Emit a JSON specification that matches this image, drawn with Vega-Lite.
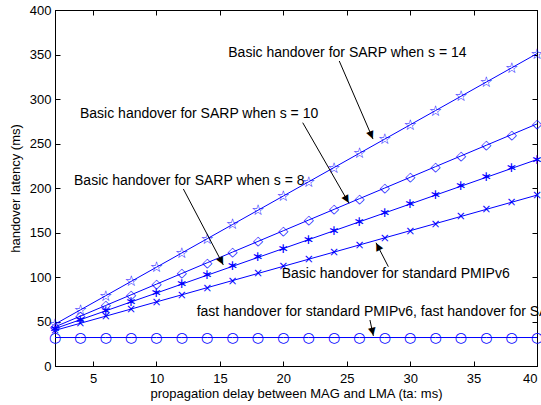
{
  "$schema": "https://vega.github.io/schema/vega-lite/v6.json",
  "width": 482,
  "height": 356,
  "autosize": "none",
  "padding": {"left": 55, "top": 10, "right": 4, "bottom": 39},
  "background": "white",
  "config": {
    "view": {"stroke": "black", "strokeWidth": 1},
    "font": "Liberation Sans",
    "axis": {
      "domainColor": "black", "tickColor": "black", "labelColor": "black", "titleColor": "black",
      "labelFont": "Liberation Sans", "titleFont": "Liberation Sans",
      "labelFontSize": 13, "titleFontSize": 13, "titleFontWeight": "normal",
      "grid": false, "tickSize": -5, "domainWidth": 1, "tickWidth": 1
    }
  },
  "data": {"values": [
      {"x": 2, "s14": 47, "s10": 44, "s8": 42, "std": 40, "fast": 32},
      {"x": 4, "s14": 63, "s10": 56, "s8": 52, "std": 48, "fast": 32},
      {"x": 6, "s14": 79, "s10": 68, "s8": 62, "std": 56, "fast": 32},
      {"x": 8, "s14": 95, "s10": 80, "s8": 72, "std": 64, "fast": 32},
      {"x": 10, "s14": 111, "s10": 92, "s8": 82, "std": 72, "fast": 32},
      {"x": 12, "s14": 127, "s10": 104, "s8": 92, "std": 80, "fast": 32},
      {"x": 14, "s14": 143, "s10": 116, "s8": 102, "std": 88, "fast": 32},
      {"x": 16, "s14": 159, "s10": 128, "s8": 112, "std": 96, "fast": 32},
      {"x": 18, "s14": 175, "s10": 140, "s8": 122, "std": 104, "fast": 32},
      {"x": 20, "s14": 191, "s10": 152, "s8": 132, "std": 112, "fast": 32},
      {"x": 22, "s14": 207, "s10": 164, "s8": 142, "std": 120, "fast": 32},
      {"x": 24, "s14": 223, "s10": 176, "s8": 152, "std": 128, "fast": 32},
      {"x": 26, "s14": 239, "s10": 188, "s8": 162, "std": 136, "fast": 32},
      {"x": 28, "s14": 255, "s10": 200, "s8": 172, "std": 144, "fast": 32},
      {"x": 30, "s14": 271, "s10": 212, "s8": 182, "std": 152, "fast": 32},
      {"x": 32, "s14": 287, "s10": 224, "s8": 192, "std": 160, "fast": 32},
      {"x": 34, "s14": 303, "s10": 236, "s8": 202, "std": 168, "fast": 32},
      {"x": 36, "s14": 319, "s10": 248, "s8": 212, "std": 176, "fast": 32},
      {"x": 38, "s14": 335, "s10": 260, "s8": 222, "std": 184, "fast": 32},
      {"x": 40, "s14": 351, "s10": 272, "s8": 232, "std": 192, "fast": 32}
  ]},
  "layer": [
    {
      "transform": [{"fold": ["s14", "s10", "s8", "std", "fast"], "as": ["series", "val"]}],
      "mark": {"type": "line", "color": "#0000ff", "strokeWidth": 1},
      "encoding": {
        "x": {"field": "x", "type": "quantitative", "scale": {"domain": [2, 40], "nice": false, "zero": false},
              "axis": {"orient": "bottom", "values": [5, 10, 15, 20, 25, 30, 35, 40], "title": "propagation delay between MAG and LMA (ta: ms)", "labelPadding": 11, "titlePadding": 2}},
        "y": {"field": "val", "type": "quantitative", "scale": {"domain": [0, 400], "nice": false},
              "axis": {"orient": "left", "values": [0, 50, 100, 150, 200, 250, 300, 350, 400], "title": "handover latency (ms)", "labelPadding": 9, "titlePadding": 7}},
        "detail": {"field": "series"}
      }
    },
    {
      "mark": {"type": "text", "text": "☆", "font": "DejaVu Sans", "fontSize": 15, "color": "#0000ff", "align": "center", "baseline": "middle"},
      "encoding": {
        "x": {"field": "x", "type": "quantitative", "axis": null},
        "y": {"field": "s14", "type": "quantitative", "axis": null}
      }
    },
    {
      "mark": {"type": "text", "text": "◇", "font": "DejaVu Sans", "fontSize": 13, "color": "#0000ff", "align": "center", "baseline": "middle"},
      "encoding": {
        "x": {"field": "x", "type": "quantitative", "axis": null},
        "y": {"field": "s10", "type": "quantitative", "axis": null}
      }
    },
    {
      "mark": {"type": "text", "text": "∗", "font": "DejaVu Sans", "fontSize": 14, "color": "#0000ff", "align": "center", "baseline": "middle"},
      "encoding": {
        "x": {"field": "x", "type": "quantitative", "axis": null},
        "y": {"field": "s8", "type": "quantitative", "axis": null}
      }
    },
    {
      "mark": {"type": "text", "text": "×", "font": "DejaVu Sans", "fontSize": 12, "color": "#0000ff", "align": "center", "baseline": "middle"},
      "encoding": {
        "x": {"field": "x", "type": "quantitative", "axis": null},
        "y": {"field": "std", "type": "quantitative", "axis": null}
      }
    },
    {
      "mark": {"type": "text", "text": "○", "font": "DejaVu Sans", "fontSize": 14, "color": "#0000ff", "align": "center", "baseline": "middle"},
      "encoding": {
        "x": {"field": "x", "type": "quantitative", "axis": {"orient": "top", "values": [5, 10, 15, 20, 25, 30, 35, 40], "labels": false, "title": null}},
        "y": {"field": "fast", "type": "quantitative", "axis": {"orient": "right", "values": [0, 50, 100, 150, 200, 250, 300, 350, 400], "labels": false, "title": null}}
      }
    },
    {
      "data": {"values": [
        {"x": 24.41, "y": 342.7, "x2": 27.07, "y2": 255, "hx": 26.95, "hy": 259.1, "angle": 157},
        {"x": 21.53, "y": 273.4, "x2": 25.18, "y2": 182.8, "hx": 25.02, "hy": 186.7, "angle": 150},
        {"x": 12.12, "y": 198.9, "x2": 15.27, "y2": 113.5, "hx": 15.12, "hy": 117.5, "angle": 152.5},
        {"x": 28.28, "y": 111.6, "x2": 27.31, "y2": 138.5, "hx": 27.45, "hy": 134.5, "angle": 333},
        {"x": 26.83, "y": 51.7, "x2": 27.1, "y2": 33.7, "hx": 27.04, "hy": 38.1, "angle": 168}
      ]},
      "layer": [
        {
          "mark": {"type": "rule", "color": "black", "strokeWidth": 1},
          "encoding": {
            "x": {"field": "x", "type": "quantitative", "axis": null},
            "y": {"field": "y", "type": "quantitative", "axis": null},
            "x2": {"field": "x2"},
            "y2": {"field": "y2"}
          }
        },
        {
          "mark": {"type": "text", "text": "▲", "font": "DejaVu Sans", "fontSize": 10, "color": "black", "align": "center", "baseline": "middle"},
          "encoding": {
            "x": {"field": "hx", "type": "quantitative", "axis": null},
            "y": {"field": "hy", "type": "quantitative", "axis": null},
            "angle": {"field": "angle", "type": "quantitative", "scale": null}
          }
        }
      ]
    },
    {
      "data": {"values": [
        {"x": 15.66, "y": 351.3, "label": "Basic handover for SARP when s = 14"},
        {"x": 3.97, "y": 282.8, "label": "Basic handover for SARP when s = 10"},
        {"x": 3.5, "y": 207.9, "label": "Basic handover for SARP when s = 8"},
        {"x": 19.87, "y": 103.4, "label": "Basic handover for standard PMIPv6"},
        {"x": 13.17, "y": 61, "label": "fast handover for standard PMIPv6, fast handover for SARP"}
      ]},
      "mark": {"type": "text", "align": "left", "baseline": "middle", "font": "Liberation Sans", "fontSize": 14, "color": "black"},
      "encoding": {
        "x": {"field": "x", "type": "quantitative", "axis": null},
        "y": {"field": "y", "type": "quantitative", "axis": null},
        "text": {"field": "label", "type": "nominal"}
      }
    }
  ],
  "resolve": {"axis": {"x": "independent", "y": "independent"}}
}
